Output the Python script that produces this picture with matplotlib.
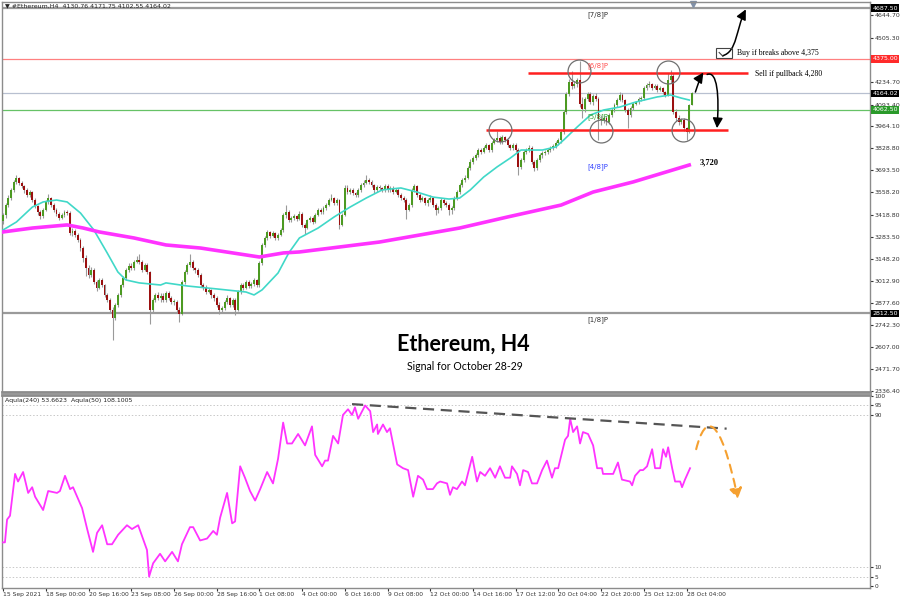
import matplotlib.pyplot as plt
import matplotlib.transforms as mtransforms
from matplotlib.patches import FancyArrowPatch, Rectangle
from matplotlib.path import Path

# ---- H4 candles, 15 Sep - 28 Oct 2021 ----
first_open = 3380
closes = [
    3417, 3478, 3522, 3571, 3620, 3644, 3614, 3595, 3571, 3540, 3558, 3509, 3472, 3435, 3411, 3448,
    3497, 3522, 3478, 3448, 3423, 3398, 3417, 3435, 3429, 3306, 3319, 3294, 3264, 3214, 3153, 3092,
    3049, 3079, 3006, 2969, 3018, 2987, 2926, 2895, 2834, 2785, 2864, 2926, 2987, 3030, 3079, 3104,
    3092, 3129, 3141, 3129, 3079, 3110, 3067, 2834, 2895, 2926, 2907, 2920, 2895, 2938, 2907, 2883,
    2883, 2834, 2809, 3006, 3067, 3110, 3129, 3092, 3079, 3049, 2987, 2969, 2944, 2957, 2926, 2907,
    2864, 2834, 2846, 2883, 2907, 2864, 2895, 2834, 2944, 2987, 2969, 3006, 2981, 2993, 3018, 2987,
    3122, 3233, 3276, 3313, 3288, 3307, 3276, 3294, 3325, 3417, 3435, 3386, 3398, 3411, 3392, 3423,
    3356, 3337, 3386, 3398, 3374, 3417, 3448, 3435, 3460, 3478, 3509, 3522, 3491, 3509, 3356, 3417,
    3583, 3558, 3571, 3552, 3540, 3571, 3601, 3614, 3632, 3620, 3601, 3571, 3589, 3583, 3571, 3595,
    3571, 3583, 3558, 3571, 3540, 3522, 3509, 3448, 3478, 3571, 3595, 3540, 3509, 3522, 3491, 3509,
    3522, 3478, 3448, 3460, 3509, 3491, 3478, 3448, 3460, 3522, 3558, 3601, 3632, 3644, 3706, 3743,
    3767, 3785, 3816, 3804, 3829, 3847, 3816, 3859, 3878, 3890, 3865, 3896, 3878, 3847, 3829, 3847,
    3816, 3712, 3755, 3804, 3816, 3829, 3743, 3706, 3755, 3785, 3798, 3804, 3816, 3829, 3841, 3859,
    3878, 3927, 4049, 4160, 4234, 4209, 4221, 4246, 4099, 4068, 4129, 4160, 4111, 4148, 4129, 4006,
    4000, 4012, 3988, 4031, 4062, 4092, 4123, 4154, 4123, 4062, 4031, 4074, 4099, 4111, 4129, 4135,
    4197, 4215, 4221, 4197, 4209, 4185, 4197, 4172, 4154, 4246, 4270, 4049, 4012, 3988, 4000, 3951,
    3927, 4092, 4164.02,
]
highs = [
    3430, 3490, 3540, 3585, 3630, 3665, 3650, 3625, 3600, 3580, 3570, 3565, 3520, 3480, 3445, 3460,
    3510, 3545, 3530, 3490, 3460, 3435, 3430, 3450, 3450, 3440, 3340, 3330, 3305, 3275, 3225, 3170,
    3110, 3095, 3090, 3020, 3030, 3030, 2995, 2940, 2905, 2850, 2875, 2940, 2995, 3045, 3090, 3120,
    3120, 3140, 3165, 3175, 3140, 3125, 3120, 3075, 2910, 2940, 2945, 2935, 2935, 2950, 2950, 2920,
    2900, 2895, 2850, 3015, 3080, 3125, 3175, 3140, 3100, 3090, 3060, 3000, 2985, 2970, 2965, 2940,
    2920, 2880, 2860, 2895, 2925, 2915, 2910, 2905, 2955, 3000, 3000, 3020, 3015, 3005, 3030, 3025,
    3135, 3245, 3290, 3325, 3320, 3320, 3315, 3305, 3340, 3430, 3480, 3445, 3410, 3425, 3420, 3440,
    3435, 3370, 3395, 3410, 3410, 3430, 3460, 3460, 3475, 3490, 3520, 3545, 3530, 3520, 3515, 3430,
    3600, 3600, 3585, 3580, 3560, 3585, 3615, 3630, 3665, 3645, 3630, 3610, 3600, 3600, 3590, 3605,
    3605, 3595, 3595, 3585, 3580, 3550, 3535, 3520, 3490, 3585, 3610, 3600, 3550, 3535, 3530, 3520,
    3540, 3530, 3490, 3475, 3520, 3520, 3500, 3490, 3470, 3535, 3570, 3615, 3645, 3660, 3720, 3760,
    3780, 3800, 3830, 3830, 3840, 3860, 3855, 3870, 3890, 3935, 3900, 3910, 3905, 3885, 3855, 3860,
    3860, 3830, 3765, 3815, 3830, 3845, 3840, 3755, 3765, 3800, 3810, 3815, 3830, 3840, 3855, 3870,
    3890, 3940, 4060, 4175, 4250, 4300, 4240, 4260, 4365, 4140, 4140, 4175, 4170, 4160, 4165, 4140,
    4030, 4025, 4025, 4045, 4075, 4105, 4135, 4170, 4165, 4130, 4075, 4085, 4110, 4120, 4140, 4150,
    4210, 4230, 4240, 4230, 4220, 4220, 4210, 4205, 4180, 4290, 4305, 4290, 4070, 4030, 4015, 4010,
    3960, 4100, 4171.75,
]
lows = [
    3360, 3400, 3465, 3510, 3560, 3605, 3600, 3580, 3555, 3525, 3530, 3495, 3460, 3420, 3395, 3400,
    3440, 3485, 3465, 3435, 3410, 3385, 3390, 3405, 3415, 3295, 3290, 3280, 3250, 3195, 3130, 3040,
    3030, 3035, 2995, 2950, 2960, 2975, 2915, 2880, 2815, 2650, 2770, 2850, 2915, 2975, 3020, 3065,
    3080, 3080, 3120, 3115, 3065, 3070, 3055, 2750, 2820, 2880, 2895, 2880, 2880, 2885, 2895, 2870,
    2865, 2820, 2760, 2800, 2995, 3055, 3100, 3080, 3060, 3035, 2975, 2955, 2930, 2935, 2910, 2890,
    2850, 2810, 2820, 2835, 2870, 2850, 2855, 2800, 2825, 2930, 2955, 2960, 2970, 2970, 2980, 2975,
    2975, 3110, 3220, 3265, 3275, 3280, 3265, 3265, 3285, 3315, 3400, 3375, 3375, 3385, 3380, 3385,
    3345, 3300, 3330, 3375, 3360, 3365, 3410, 3425, 3425, 3450, 3470, 3500, 3480, 3480, 3330, 3350,
    3410, 3545, 3545, 3540, 3525, 3530, 3560, 3590, 3605, 3605, 3590, 3555, 3560, 3570, 3560, 3560,
    3560, 3560, 3545, 3550, 3530, 3510, 3495, 3390, 3440, 3465, 3560, 3530, 3495, 3500, 3480, 3475,
    3495, 3465, 3420, 3430, 3450, 3480, 3465, 3420, 3425, 3445, 3510, 3545, 3590, 3620, 3635, 3695,
    3730, 3755, 3775, 3790, 3795, 3820, 3805, 3805, 3850, 3865, 3855, 3855, 3865, 3835, 3815, 3815,
    3805, 3660, 3700, 3745, 3790, 3805, 3730, 3690, 3695, 3740, 3770, 3785, 3790, 3805, 3815, 3830,
    3845, 3860, 3915, 4035, 4145, 4190, 4195, 4205, 4080, 4010, 4050, 4115, 4100, 4095, 4115, 3880,
    3970, 3985, 3970, 3975, 4020, 4050, 4080, 4115, 4110, 4050, 3950, 4020, 4060, 4090, 4100, 4120,
    4125, 4185, 4200, 4185, 4190, 4175, 4180, 4160, 4140, 4145, 4230, 4040, 3995, 3970, 3975, 3930,
    3880, 3920, 4102.55,
]
opens = [first_open] + closes[:-1]

# moving averages (bar index, price)
fast_ma_bars = [0, 5, 11, 15, 20, 24, 29, 34, 39, 43, 46, 51, 59, 61, 69, 80, 91, 94, 97, 103,
                107, 111, 118, 124, 130, 136, 142, 149, 155, 161, 167, 171, 175, 180, 185, 190,
                194, 202, 207, 210, 215, 220, 225, 231, 237, 245, 250, 254, 257]
fast_ma = [3325, 3374, 3466, 3497, 3509, 3497, 3429, 3325, 3184, 3067, 3018, 3000, 2987, 3000,
           2981, 2963, 2944, 2926, 2957, 3061, 3184, 3276, 3337, 3405, 3466, 3521, 3571, 3583,
           3558, 3527, 3515, 3521, 3571, 3650, 3712, 3767, 3816, 3816, 3835, 3878, 3957, 4031,
           4062, 4080, 4111, 4142, 4154, 4135, 4123]
slow_ma_bars = [0, 11, 24, 30, 36, 49, 61, 74, 86, 96, 105, 111, 141, 171, 189, 209, 221, 236, 257]
slow_ma = [3313, 3337, 3356, 3337, 3313, 3276, 3233, 3214, 3184, 3159, 3184, 3190, 3251, 3337,
           3405, 3478, 3558, 3620, 3724]

# oscillator (bar index, value)
osc_bars = [0, 0.7, 1.5, 2.6, 4.5, 5.6, 7.5, 9.4, 10.9, 12, 15, 16.9, 20.2, 21.3, 23.2, 25.1, 26.2,
            29.6, 31.5, 33.7, 35.2, 37.1, 39, 40.8, 43.1, 46.4, 48.3, 50.6, 53.9, 54.7, 56.2, 58.8,
            60.7, 63.3, 65.5, 67, 70, 71.2, 73.8, 76.4, 78.7, 80.1, 81.3, 83.9, 85.8, 86.9, 88.8,
            90.6, 92.5, 94.4, 96.3, 98.9, 101.1, 103, 104.9, 106.4, 108.2, 110.5, 113.1, 115.7,
            116.9, 119.5, 120.6, 121.7, 123.6, 125.5, 127.3, 129.2, 130.7, 131.8, 133, 135.6,
            137.5, 138.6, 140.1, 140.4, 142.3, 143.8, 144.9, 147.6, 149.8, 151.7, 153.6, 155.4,
            157.3, 158.8, 161, 162.5, 163.7, 166.3, 167.4, 168.5, 170, 171.9, 173, 175.7, 177.5,
            178.7, 180.5, 182.4, 184.3, 186.1, 188, 189.9, 190.6, 192.5, 193.6, 194.8, 196.6,
            198.1, 200, 201.9, 203.7, 205.6, 206.7, 207.9, 210.5, 211.6, 212.4, 213.5, 215,
            216.1, 217.2, 219.1, 221, 222.5, 224.3, 224.7, 228.5, 230.3, 231.8, 234.8, 235.6,
            236.7, 238.6, 239.7, 241.2, 243.1, 244.2, 246.1, 247.2, 248.3, 249.1, 250.6, 251.7,
            253.6, 254.3, 255.4, 257.3]
osc_vals = [23, 23, 35, 37, 59, 55, 60, 49, 52, 47, 40, 50, 49, 50, 58, 51, 52,
            41, 30, 18, 28, 32, 22, 22, 27, 32, 30, 32, 19, 5, 12, 17,
            13, 18, 13, 22, 31, 31, 24, 25, 29, 27, 36, 49, 33, 34, 63,
            57, 50, 45, 51, 60, 54, 67, 86, 75, 75, 80, 74, 84,
            69, 63, 66, 66, 79, 75, 90, 93, 90, 94, 88, 95,
            92, 81, 85, 80, 85, 81, 83, 64, 62, 61, 47, 58,
            56, 51, 51, 54, 55, 54, 48, 52, 51, 55, 53, 68, 55,
            60, 58, 62, 57, 63, 57, 57, 63, 59, 53, 61, 60,
            54, 54, 61, 66, 57, 62, 62, 77, 79, 88, 81, 84,
            75, 81, 80, 74, 62, 62, 59, 59, 65, 56, 55, 53,
            58, 61, 61, 63, 72, 62, 62, 72, 68, 73, 62, 55,
            55, 52, 56, 62]

# axis labels
date_bars = [0, 16, 32, 48, 64, 80, 96, 112, 128, 144, 160, 176, 192, 208, 224, 240, 256]
date_labels = ['15 Sep 2021', '18 Sep 00:00', '20 Sep 16:00', '23 Sep 08:00', '26 Sep 00:00',
               '28 Sep 16:00', '1 Oct 08:00', '4 Oct 00:00', '6 Oct 16:00', '9 Oct 08:00',
               '12 Oct 00:00', '14 Oct 16:00', '17 Oct 12:00', '20 Oct 04:00', '22 Oct 20:00',
               '25 Oct 12:00', '28 Oct 04:00']
price_ticks = [2336.4, 2471.7, 2607.0, 2742.3, 2877.6, 3012.9, 3148.2, 3283.5, 3418.8, 3558.2,
               3693.5, 3828.8, 3964.1, 4093.4, 4234.7, 4505.3, 4644.7]
osc_ticks = [0, 5, 10, 90, 95, 100]

# Murrey levels and marked prices
gann_levels = [4687.5, 4375.0, 4062.5, 3750.0, 2812.5]
gann_names = ['[7/8]P', '[6/8]P', '[5/8]P', '[4/8]P', '[1/8]P']
gann_colors = ['#333333', '#ff5050', '#30a030', '#3040ff', '#333333']
last_price = 4164.02
resistance = 4289
support = 3939
ma_label = '3,720'

fs = 4.5
fig = plt.figure(figsize=(9, 6), dpi=100)
ax = fig.add_axes([2 / 900, 1 - 392 / 600, 868 / 900, 390 / 600])
ax2 = fig.add_axes([2 / 900, 1 - 588 / 600, 868 / 900, 193 / 600])

n = len(closes)
xmin, xmax = -0.4, 324.7
for a in (ax, ax2):
    a.set_xlim(xmin, xmax)
    for s in a.spines.values():
        s.set_color('#8c8c8c')
        s.set_linewidth(1)
ax.spines['bottom'].set_linewidth(2)
ax2.spines['top'].set_linewidth(2)
ax.set_ylim(2330, 4725)
ax2.set_ylim(-1, 100.5)

# horizontal levels
lv_style = {4687.5: ('#9a9a9a', 1.6), 4375.0: ('#ff8080', 0.9), 4062.5: ('#66c266', 0.9),
            2812.5: ('#9a9a9a', 1.6)}
for lv, (c, lw) in lv_style.items():
    ax.axhline(lv, color=c, lw=lw, zorder=1)
ax.axhline(last_price, color='#b8c0d0', lw=0.9, zorder=1)

# candles
up_c, dn_c, wick_c = '#4c9a22', '#9b1010', '#9a9a9a'
idx = list(range(n))
hi = [max(h, o, c) for h, o, c in zip(highs, opens, closes)]
lo = [min(l, o, c) for l, o, c in zip(lows, opens, closes)]
ax.vlines(idx, lo, hi, color=wick_c, lw=0.8, zorder=2)
bottoms = [min(o, c) for o, c in zip(opens, closes)]
heights = [max(abs(c - o), 4) for o, c in zip(opens, closes)]
colors = [up_c if c >= o else dn_c for o, c in zip(opens, closes)]
ax.bar(idx, heights, bottom=bottoms, width=0.72, color=colors, lw=0, zorder=3)

ax.plot(fast_ma_bars, fast_ma, color='#40d8c8', lw=1.2, zorder=4)
ax.plot(slow_ma_bars, slow_ma, color='#ff33ff', lw=2.6, zorder=4)

# support / resistance
ax.hlines(resistance, 196.5, 279, color='#ff2020', lw=1.8, zorder=5)
ax.hlines(support, 181, 271.5, color='#ff2020', lw=1.8, zorder=5)
circ_bars = [186, 215.7, 224, 249, 254.7]
circ_prices = [3939, 4300, 3933, 4295, 3939]
ax.plot(circ_bars, circ_prices, ls='none', marker='o', ms=16.5, mfc='none', mec='#707070',
        mew=0.9, zorder=6)

# Murrey labels
for lv, name, c in zip(gann_levels, gann_names, gann_colors):
    ax.text(219, lv - 18, name, color=c, fontsize=5, va='top', ha='left', zorder=6)

# right price scale
ax.yaxis.tick_right()
ax.set_yticks(price_ticks)
ax.set_yticklabels([f'{v:.2f}' for v in price_ticks])
ax.tick_params(axis='y', labelsize=fs, length=2, pad=1.5, colors='#333333')
ax.tick_params(axis='x', bottom=False, labelbottom=False)
trans = mtransforms.blended_transform_factory(ax.transAxes, ax.transData)
boxes = [(4687.5, '#000000'), (4375.0, '#ff2a2a'), (last_price, '#000000'),
         (4062.5, '#2a9a2a'), (2812.5, '#000000')]
for v, c in boxes:
    ax.text(1.003, v, f'{v:.2f}', transform=trans, fontsize=fs, color='white', va='center',
            ha='left', clip_on=False, zorder=10,
            bbox=dict(boxstyle='square,pad=0.2', fc=c, ec='none'))

ax.text(0.004, 0.997, '\u25bc #Ethereum,H4  4130.76 4171.75 4102.55 4164.02',
        transform=ax.transAxes, fontsize=4.5, va='top', ha='left', color='#222222')
ax.plot([258.5], [0.995], marker='v', ms=4, color='#8090a8',
        transform=mtransforms.blended_transform_factory(ax.transData, ax.transAxes),
        clip_on=False)

# signal arrows
def curve(pts):
    return Path(pts, [Path.MOVETO, Path.CURVE4, Path.CURVE4, Path.CURVE4])

arr = dict(arrowstyle='-|>,head_length=4,head_width=2', color='black', lw=1.1,
           mutation_scale=1.5, zorder=7)
ax.add_patch(FancyArrowPatch(path=curve([(259.3, 4172), (260.3, 4220), (261, 4260), (262.3, 4292)]), **arr))
ax.add_patch(FancyArrowPatch(path=curve([(263.7, 4280), (267.5, 4305), (268.3, 4150), (267.4, 3950)]), **arr))
ax.add_patch(FancyArrowPatch(path=curve([(269.5, 4395), (275, 4420), (274.5, 4560), (278.2, 4680)]), **arr))
ax.add_patch(Rectangle((267.2, 4381), 6, 62, fill=False, ec='#444444', lw=0.8, zorder=7))
ax.plot([268.2, 269.6], [4415, 4392], color='#444444', lw=0.8, zorder=7)

serif = ['Liberation Serif', 'DejaVu Serif']
ax.text(275, 4412, 'Buy if breaks above 4,375', fontsize=5.6, family=serif, va='center')
ax.text(281.5, 4282, 'Sell if pullback 4,280', fontsize=5.6, family=serif, va='center')
ax.text(261, 3740, ma_label, fontsize=6, family=serif, fontweight='bold', va='center')

title_font = ['Lato', 'DejaVu Sans']
fig.text(463 / 900, 1 - 344 / 600, 'Ethereum, H4', ha='center', va='center', fontsize=15.5,
         fontweight='bold', family=title_font)
fig.text(465 / 900, 1 - 367 / 600, 'Signal for October 28-29', ha='center', va='center',
         fontsize=7.6, family=title_font)

# oscillator panel
for v in (95, 90, 10, 5):
    ax2.axhline(v, color='#c8c8c8', lw=0.7, ls=(0, (1.5, 2)), zorder=1)
ax2.plot(osc_bars, osc_vals, color='#ff33ff', lw=1.3, zorder=3)
ax2.plot([130.7, 271], [95.7, 82.8], color='#555555', lw=1.6, ls=(0, (5, 3)), zorder=4)
ax2.add_patch(FancyArrowPatch(path=curve([(259.6, 72), (263, 91), (268.5, 91), (275.2, 46)]),
                              arrowstyle='-|>,head_length=4,head_width=2.5', color='#f5a030',
                              lw=1.5, ls=(0, (4, 3)), mutation_scale=1.5, zorder=5))
ax2.text(0.004, 0.985, 'Aqula(240) 53.6623  Aqula(50) 108.1005', transform=ax2.transAxes,
         fontsize=4.5, va='top', ha='left', color='#222222')
ax2.yaxis.tick_right()
ax2.set_yticks(osc_ticks)
ax2.set_yticklabels([str(v) for v in osc_ticks])
ax2.tick_params(axis='y', labelsize=4.2, length=2, pad=1, colors='#333333')
ax2.set_xticks(date_bars)
ax2.set_xticklabels(date_labels, ha='left')
ax2.tick_params(axis='x', labelsize=4.3, length=2, pad=1, colors='#333333')

fig.savefig('out.png', dpi=100)
